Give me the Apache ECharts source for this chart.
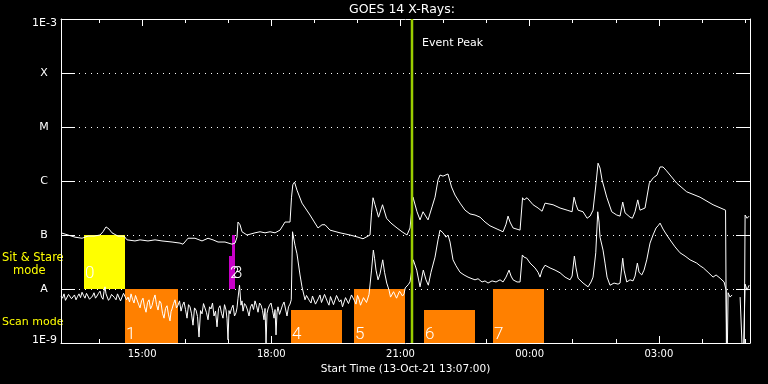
<!DOCTYPE html>
<html><head><meta charset="utf-8">
<script src="https://cdn.jsdelivr.net/npm/echarts@6/dist/echarts.min.js"></script>
<style>html,body{margin:0;padding:0;background:#000}#c{width:768px;height:384px}</style>
</head><body><div id="c"></div>
<script>
// time in hours of 13-Oct-21 (values >24 are next day), flux as log10(W/m^2)
const startHour = 13 + 7 / 60;
const endHour = startHour + 16;
const levelLabels = {'-3': '1E-3', '-4': 'X', '-5': 'M', '-6': 'C', '-7': 'B', '-8': 'A', '-9': '1E-9'};
const hourTicks = [14, 15, 16, 17, 18, 19, 20, 21, 22, 23, 24, 25, 26, 27, 28, 29];
const majorHourTicks = [15, 18, 21, 24, 27];
const eventPeakTime = 21.26;

// long channel (1-8 A)
const longChannel = [[13.117,-6.96],[13.28,-7.00],[13.442,-7.04],[13.605,-7.06],[13.744,-7.02],[13.883,-7.02],[14.023,-7.00],[14.092,-6.94],[14.162,-6.85],[14.232,-6.89],[14.301,-6.96],[14.44,-7.02],[14.58,-7.02],[14.65,-7.09],[14.835,-7.11],[14.952,-7.09],[14.998,-7.06],[15.137,-7.11],[15.3,-7.09],[15.462,-7.11],[15.695,-7.13],[15.88,-7.15],[15.95,-7.17],[16.066,-7.06],[16.229,-7.06],[16.391,-7.11],[16.531,-7.06],[16.647,-7.09],[16.763,-7.13],[16.925,-7.13],[17.088,-7.17],[17.158,-7.15],[17.204,-7.04],[17.227,-6.76],[17.274,-6.81],[17.32,-6.94],[17.436,-7.00],[17.622,-6.96],[17.738,-6.94],[17.855,-6.96],[17.971,-6.94],[18.087,-6.96],[18.203,-6.91],[18.319,-6.76],[18.435,-6.76],[18.47,-6.30],[18.5,-6.07],[18.54,-6.02],[18.597,-6.17],[18.713,-6.41],[18.899,-6.63],[19.085,-6.87],[19.178,-6.81],[19.248,-6.81],[19.364,-6.91],[19.596,-6.96],[19.828,-7.00],[20.014,-7.04],[20.13,-7.07],[20.293,-7.00],[20.328,-6.59],[20.363,-6.31],[20.409,-6.44],[20.456,-6.57],[20.49,-6.67],[20.583,-6.44],[20.676,-6.69],[20.78,-6.78],[20.92,-6.87],[21.036,-6.94],[21.152,-7.00],[21.222,-6.87],[21.291,-6.30],[21.384,-6.57],[21.454,-6.72],[21.524,-6.57],[21.57,-6.63],[21.64,-6.72],[21.733,-6.48],[21.802,-6.30],[21.872,-5.98],[21.918,-5.89],[21.988,-5.91],[22.034,-5.94],[22.104,-5.87],[22.185,-6.11],[22.266,-6.26],[22.383,-6.41],[22.499,-6.54],[22.615,-6.61],[22.731,-6.63],[22.848,-6.67],[22.964,-6.76],[23.08,-6.83],[23.243,-6.89],[23.382,-6.94],[23.451,-6.80],[23.498,-6.65],[23.544,-6.76],[23.614,-6.87],[23.777,-6.91],[23.835,-6.31],[23.87,-6.35],[23.939,-6.31],[24.079,-6.44],[24.195,-6.50],[24.288,-6.56],[24.357,-6.41],[24.543,-6.44],[24.706,-6.50],[24.869,-6.54],[24.985,-6.57],[25.031,-6.30],[25.077,-6.44],[25.124,-6.54],[25.24,-6.57],[25.333,-6.69],[25.403,-6.65],[25.472,-6.54],[25.542,-6.04],[25.588,-5.67],[25.634,-5.76],[25.681,-5.98],[25.79,-6.30],[25.906,-6.57],[26.022,-6.63],[26.099,-6.65],[26.161,-6.39],[26.215,-6.59],[26.331,-6.67],[26.385,-6.69],[26.447,-6.57],[26.51,-6.35],[26.563,-6.54],[26.679,-6.50],[26.779,-6.04],[26.872,-5.94],[26.958,-5.89],[27.028,-5.74],[27.097,-5.74],[27.167,-5.80],[27.415,-6.04],[27.647,-6.20],[27.957,-6.30],[28.259,-6.44],[28.491,-6.52],[28.549,-6.54],[28.572,-9.5],[28.979,-9.5],[29.003,-6.63],[29.049,-6.69],[29.096,-6.65]];

// short channel (0.5-4 A); null = data gap
const shortChannel = [[13.117,-8.13],[13.152,-8.17],[13.187,-8.09],[13.221,-8.21],[13.256,-8.19],[13.291,-8.10],[13.326,-8.07],[13.361,-8.18],[13.396,-8.15],[13.430,-8.11],[13.465,-8.20],[13.500,-8.14],[13.535,-8.09],[13.570,-8.16],[13.605,-8.06],[13.640,-8.12],[13.674,-8.17],[13.709,-8.08],[13.744,-8.11],[13.779,-8.19],[13.814,-8.22],[13.849,-8.13],[13.883,-8.07],[13.918,-8.17],[13.953,-8.13],[13.988,-8.08],[14.023,-8.04],[14.058,-8.15],[14.092,-8.19],[14.115,-8.05],[14.139,-7.96],[14.162,-8.09],[14.185,-8.11],[14.220,-8.21],[14.255,-8.17],[14.290,-8.10],[14.325,-8.07],[14.360,-8.16],[14.394,-8.20],[14.429,-8.09],[14.464,-8.11],[14.499,-8.22],[14.534,-8.19],[14.569,-8.08],[14.603,-8.06],
[14.638,-8.20],[14.673,-8.15],[14.708,-8.24],[14.743,-8.09],[14.778,-8.19],[14.812,-8.26],[14.847,-8.12],[14.882,-8.13],[14.917,-8.28],[14.952,-8.35],[14.987,-8.22],[15.021,-8.17],[15.056,-8.33],[15.091,-8.43],[15.126,-8.25],[15.161,-8.20],[15.196,-8.37],[15.230,-8.31],[15.265,-8.19],[15.300,-8.11],[15.335,-8.29],[15.370,-8.39],[15.405,-8.22],[15.439,-8.26],[15.474,-8.45],[15.509,-8.54],[15.544,-8.36],[15.579,-8.31],[15.614,-8.48],[15.648,-8.59],[15.672,-8.42],[15.695,-8.37],[15.730,-8.27],[15.764,-8.20],[15.799,-8.35],[15.834,-8.30],
[15.869,-8.22],[15.904,-8.41],[15.939,-8.30],[15.973,-8.24],[16.008,-8.38],[16.043,-8.54],[16.078,-8.29],[16.113,-8.33],[16.148,-8.46],[16.182,-8.67],[16.217,-8.35],[16.252,-8.39],[16.287,-8.51],[16.322,-8.89],[16.357,-8.40],[16.391,-8.46],[16.426,-8.27],[16.461,-8.30],[16.496,-8.44],[16.531,-8.57],[16.566,-8.33],[16.600,-8.37],[16.635,-8.26],[16.670,-8.50],[16.705,-8.41],[16.740,-8.70],[16.775,-8.36],[16.809,-8.31],[16.844,-8.45],[16.879,-8.54],[16.914,-8.29],[16.949,-8.39],[16.972,-8.55],[16.995,-8.94],[17.018,-8.40],[17.042,-8.46],[17.077,-8.36],[17.111,-8.30],[17.146,-8.50],[17.181,-8.44],[17.204,-8.35],[17.227,-8.17],[17.262,-7.93],[17.297,-8.30],
[17.320,-8.22],[17.344,-8.41],[17.378,-8.27],[17.413,-8.31],[17.448,-8.39],[17.483,-8.50],[17.518,-8.33],[17.553,-8.28],[17.588,-8.38],[17.622,-8.22],[17.657,-8.31],[17.692,-8.43],[17.727,-8.26],[17.762,-8.30],[17.797,-8.40],[17.831,-8.57],[17.855,-8.36],[17.878,-9.00],[17.901,-8.45],[17.924,-8.37],[17.959,-8.30],[17.994,-8.26],[18.029,-8.40],[18.064,-8.54],[18.087,-8.38],[18.110,-8.85],[18.133,-8.43],[18.156,-8.33],[18.191,-8.47],[18.226,-8.44],[18.261,-8.30],[18.296,-8.24],[18.331,-8.37],[18.365,-8.50],[18.400,-8.33],[18.435,-8.28],[18.464,-8.20],
[18.493,-6.94],[18.551,-7.19],[18.597,-7.35],[18.667,-7.74],[18.713,-7.96],
[18.783,-8.20],[18.818,-8.12],[18.853,-8.09],[18.888,-8.22],[18.922,-8.26],[18.957,-8.13],[18.992,-8.15],[19.027,-8.28],[19.062,-8.31],[19.097,-8.17],[19.131,-8.11],[19.166,-8.25],[19.201,-8.22],[19.236,-8.10],[19.271,-8.13],[19.306,-8.24],[19.340,-8.30],[19.375,-8.14],[19.410,-8.17],[19.445,-8.29],[19.480,-8.26],[19.515,-8.12],[19.549,-8.09],[19.584,-8.24],[19.619,-8.20],[19.654,-8.33],[19.689,-8.31],[19.724,-8.16],[19.758,-8.15],[19.793,-8.27],[19.828,-8.24],[19.863,-8.11],[19.898,-8.13],[19.933,-8.22],[19.967,-8.28],[20.002,-8.12],[20.037,-8.19],[20.072,-8.30],[20.107,-8.30],[20.142,-8.16],[20.176,-8.15],[20.211,-8.25],[20.246,-8.22],[20.270,-8.10],[20.293,-8.13],
[20.328,-7.65],[20.370,-7.28],[20.398,-7.43],[20.432,-7.65],[20.479,-7.83],[20.525,-7.72],[20.588,-7.46],[20.630,-7.69],[20.681,-7.89],[20.734,-8.02],[20.769,-8.15],[20.804,-8.13],[20.839,-8.05],[20.874,-8.04],[20.909,-8.17],[20.943,-8.15],[20.978,-8.04],[21.013,-8.06],[21.048,-8.13],[21.083,-8.09],[21.110,-7.98],[21.145,-7.96],[21.180,-7.92],[21.222,-7.87],
[21.298,-7.46],[21.377,-7.65],[21.454,-7.96],[21.530,-7.65],[21.593,-7.83],[21.647,-7.93],[21.709,-7.69],[21.802,-7.41],[21.872,-7.09],[21.918,-6.91],[21.988,-6.96],[22.058,-7.04],[22.104,-7.00],[22.151,-7.13],[22.220,-7.46],[22.290,-7.57],[22.383,-7.69],[22.476,-7.74],[22.569,-7.78],[22.662,-7.81],[22.731,-7.83],[22.801,-7.81],[22.894,-7.87],[22.963,-7.85],[23.033,-7.89],[23.126,-7.85],[23.219,-7.87],[23.312,-7.83],[23.382,-7.87],[23.451,-7.78],[23.521,-7.65],[23.567,-7.76],[23.614,-7.83],[23.707,-7.87],[23.777,-7.87],[23.830,-7.37],[23.870,-7.41],[23.932,-7.43],[24.009,-7.52],[24.125,-7.61],[24.195,-7.69],[24.241,-7.78],[24.288,-7.65],[24.357,-7.56],[24.473,-7.61],[24.589,-7.65],[24.706,-7.70],[24.822,-7.78],[24.938,-7.83],[24.985,-7.76],[25.038,-7.39],[25.077,-7.61],[25.124,-7.80],[25.240,-7.89],[25.356,-7.96],[25.426,-7.87],[25.472,-7.78],[25.535,-7.33],[25.581,-6.57],[25.611,-6.76],[25.634,-7.04],[25.704,-7.28],[25.750,-7.52],[25.797,-7.78],[25.866,-7.93],[25.959,-7.89],[26.052,-7.91],[26.099,-7.89],[26.161,-7.43],[26.192,-7.65],[26.254,-7.87],[26.331,-7.83],[26.401,-7.85],[26.447,-7.76],[26.501,-7.52],[26.540,-7.69],[26.603,-7.74],[26.656,-7.65],[26.719,-7.46],[26.795,-7.15],[26.865,-7.00],[26.935,-6.87],[26.981,-6.83],[27.028,-6.78],[27.097,-6.89],[27.183,-7.00],[27.260,-7.09],[27.376,-7.22],[27.492,-7.33],[27.609,-7.39],[27.725,-7.46],[27.880,-7.52],[27.957,-7.57],[28.034,-7.61],[28.143,-7.69],[28.259,-7.78],[28.329,-7.74],[28.422,-7.80],[28.515,-7.87],[28.561,-8.02],[28.584,-9.5],[28.608,-8.07],[28.654,-8.15],[28.701,-8.11],[28.75,null],[28.887,-8.15],[28.933,-8.13],[28.956,-9.5],[29.003,-7.91],[29.049,-8.02],[29.096,-7.93]];

// observation boxes: start, end (hours), low, high (log flux)
const boxStart = [13.65, 14.60, 17.02, 17.09, 18.46, 19.92, 21.55, 23.15];
const boxEnd   = [14.60, 15.83, 17.11, 17.16, 19.64, 21.11, 22.73, 24.33];
const boxLow   = [-8, -9, -8, -8, -9, -9, -9, -9];
const boxHigh  = [-7, -8, -7.39, -7, -8.39, -8, -8.39, -8];
const boxLabel = ['0', '1', '2', '3', '4', '5', '6', '7'];
const boxMode  = ['stare', 'scan', 'stare', 'stare', 'scan', 'scan', 'scan', 'scan'];

const boxFill = ['#ffff00', '#ff8000', '#c800c8', '#c800c8', '#ff8000', '#ff8000', '#ff8000', '#ff8000'];
const FONT = '"DejaVu Sans", sans-serif';

const chart = echarts.init(document.getElementById('c'));

function renderBox(params, api) {
  const i = api.value(4);
  const p0 = api.coord([api.value(0), api.value(3)]);
  const p1 = api.coord([api.value(1), api.value(2)]);
  const x0 = Math.round(p0[0]), x1 = Math.round(p1[0]);
  const y0 = Math.round(p0[1]), y1 = Math.round(p1[1]);
  const off = boxMode[i] === 'stare' ? 7 : 0;
  return {
    type: 'group',
    children: [
      {type: 'rect', shape: {x: x0, y: y0, width: x1 - x0, height: y1 - y0}, style: {fill: boxFill[i]}},
      {type: 'text', x: x0 + 1, y: y1 - off, z2: 5,
       style: {text: boxLabel[i], fill: '#fff', font: '300 17px Roboto, sans-serif', verticalAlign: 'bottom', align: 'left'}}
    ]
  };
}

function renderEvent(params, api) {
  const cs = params.coordSys;
  const x = Math.round(api.coord([api.value(0), -3])[0]);
  return {
    type: 'group',
    children: [
      {type: 'line', shape: {x1: x, y1: cs.y, x2: x, y2: cs.y + cs.height}, style: {stroke: '#9acd00', lineWidth: 2.5}},
      {type: 'text', x: x + 10, y: cs.y + 24, style: {text: 'Event Peak', fill: '#fff', font: '11px ' + FONT, verticalAlign: 'middle'}}
    ]
  };
}

const baseX = {type: 'value', min: startHour, max: endHour, splitLine: {show: false}};
function xAx(pos, major) {
  return Object.assign({}, baseX, {
    position: pos,
    axisLine: {show: !major, lineStyle: {color: '#fff', width: 1}},
    axisTick: {show: true, inside: true, length: major ? 7 : 4, customValues: major ? majorHourTicks : hourTicks, lineStyle: {color: '#fff'}},
    axisLabel: (pos === 'bottom' && major) ? {
      show: true, customValues: majorHourTicks, color: '#fff', fontFamily: FONT, fontSize: 10, margin: 6,
      formatter: v => String(Math.round(v) % 24).padStart(2, '0') + ':00'
    } : {show: false}
  }, (pos === 'bottom' && major) ? {
    name: 'Start Time (13-Oct-21 13:07:00)', nameLocation: 'middle', nameGap: 19,
    nameTextStyle: {color: '#fff', fontFamily: FONT, fontSize: 10.5}
  } : {});
}

const labelRich = {
  c: {width: 26, align: 'center', color: '#fff', fontFamily: FONT, fontSize: 11},
  t: {padding: [8, 0, 0, 0], color: '#fff', fontFamily: FONT, fontSize: 11},
  b: {padding: [0, 0, 6, 0], color: '#fff', fontFamily: FONT, fontSize: 11}
};

chart.setOption({
  backgroundColor: '#000',
  animation: false,
  grid: {left: 61, right: 18, top: 19, bottom: 41, containLabel: false},
  xAxis: [xAx('bottom', false), xAx('bottom', true), xAx('top', false), xAx('top', true)],
  yAxis: [
    {type: 'value', min: -9, max: -3, interval: 1, position: 'left',
     axisLine: {show: true, lineStyle: {color: '#fff'}},
     axisTick: {show: true, inside: true, length: 14, lineStyle: {color: '#fff'}},
     axisLabel: {color: '#fff', fontFamily: FONT, fontSize: 11, margin: 4, rich: labelRich,
       formatter: v => {
         const k = Math.round(v); const s = levelLabels[k];
         if (k === -3) return '{t|' + s + '}';
         if (k === -9) return '{b|' + s + '}';
         return '{c|' + s + '}';
       }},
     splitLine: {show: true, lineStyle: {color: '#fff', width: 1, type: [1, 5]}}},
    {type: 'value', min: -9, max: -3, interval: 1, position: 'right',
     axisLine: {show: true, lineStyle: {color: '#fff'}},
     axisTick: {show: true, inside: true, length: 14, lineStyle: {color: '#fff'}},
     axisLabel: {show: false}, splitLine: {show: false}}
  ],
  graphic: [
    {type: 'text', x: 402, y: 10, style: {text: 'GOES 14 X-Rays:', fill: '#fff', font: '12.5px ' + FONT, align: 'center', verticalAlign: 'middle'}},
    {type: 'text', left: 2, top: 252, style: {text: 'Sit & Stare', fill: '#ffff00', font: '11.5px ' + FONT}},
    {type: 'text', left: 13, top: 265, style: {text: 'mode', fill: '#ffff00', font: '11.5px ' + FONT}},
    {type: 'text', left: 2, top: 317, style: {text: 'Scan mode', fill: '#ffff00', font: '11px ' + FONT}}
  ],
  series: [
    {type: 'custom', renderItem: renderBox, z: 1, silent: true,
     data: boxStart.map((s, i) => [s, boxEnd[i], boxLow[i], boxHigh[i], i])},
    {type: 'line', z: 3, symbol: 'none', showSymbol: false, silent: true,
     lineStyle: {color: '#fff', width: 1},
     data: longChannel.map(p => [p[0], p[1]])},
    {type: 'line', z: 3, symbol: 'none', showSymbol: false, silent: true, connectNulls: false,
     lineStyle: {color: '#fff', width: 1},
     data: shortChannel.map(p => [p[0], p[1] === null ? '-' : p[1]])},
    {type: 'custom', renderItem: renderEvent, z: 4, silent: true, data: [[eventPeakTime]]}
  ]
});
</script>
</body></html>
